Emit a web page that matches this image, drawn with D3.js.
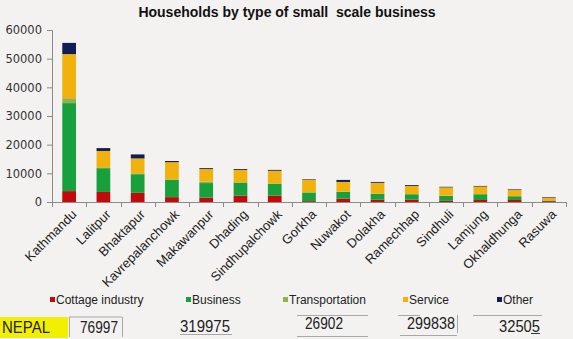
<!DOCTYPE html>
<meta charset="utf-8">
<style>
    body { margin: 0; background: #f3f2f0; }
    svg { display: block; }
    .yax text { font-family: "DejaVu Sans", sans-serif; font-size: 11.5px; fill: #333; }
    .yax path, .yax line { stroke: #8a8a8a; }
    .xlab { font-family: "Liberation Sans", Arial, sans-serif; font-size: 13px; fill: #222; }
    .leg { font-family: "Liberation Sans", Arial, sans-serif; font-size: 12px; fill: #222; }
    .tot { font-family: "Liberation Sans", Arial, sans-serif; font-size: 16px; fill: #222; }
    .grid { stroke: #a8a8a8; stroke-width: 1; }
</style>
<svg width="573" height="339"></svg>
<script src="https://cdn.jsdelivr.net/npm/d3@7"></script>
<script>
    // households per district, split by type of small scale business
    var districts = ["Kathmandu", "Lalitpur", "Bhaktapur", "Kavrepalanchowk", "Makawanpur", "Dhading",
        "Sindhupalchowk", "Gorkha", "Nuwakot", "Dolakha", "Ramechhap", "Sindhuli", "Lamjung", "Okhaldhunga", "Rasuwa"];
    var cottage   = [3800, 3500, 3200, 1700, 1500, 2200, 2200, 300, 1200, 800, 800, 400, 700, 700, 300];
    var business  = [30700, 8300, 6500, 6000, 5100, 4500, 4100, 3000, 2300, 2000, 1900, 1700, 2000, 1300, 200];
    var transport = [1700, 300, 300, 200, 500, 200, 200, 100, 100, 100, 100, 100, 100, 100, 100];
    var service   = [15400, 5700, 5200, 6000, 4400, 4300, 4400, 4300, 3400, 3800, 2800, 2900, 2600, 2100, 900];
    var other     = [3900, 1000, 1400, 400, 300, 300, 300, 200, 700, 300, 300, 200, 200, 200, 200];

    var seriesNames = ["Cottage industry", "Business", "Transportation", "Service", "Other"];
    var seriesColors = ["#c20a0a", "#17a03c", "#8fb14e", "#f1b20e", "#0f1e58"];

    // country totals shown under the legend
    var totalLabel = "NEPAL";
    var nepalTotals = [76997, 319975, 26902, 299838, 32505];

    var svg = d3.select("svg");
    var plotL = 52, plotR = 566, plotT = 30, plotB = 202;

    var rows = districts.map(function (d, i) {
        return { district: d, c0: cottage[i], c1: business[i], c2: transport[i], c3: service[i], c4: other[i] };
    });
    var keys = ["c0", "c1", "c2", "c3", "c4"];
    var stacked = d3.stack().keys(keys)(rows);

    var x = d3.scaleBand().domain(districts).range([plotL, plotR]).paddingInner(0.6).paddingOuter(0.3);
    var y = d3.scaleLinear().domain([0, 60000]).range([plotB, plotT]);

    // title
    svg.append("text")
        .attr("x", 287).attr("y", 17)
        .attr("text-anchor", "middle")
        .style("font-family", "Liberation Sans, Arial, sans-serif")
        .style("font-size", "14px").style("font-weight", "bold").style("fill", "#111")
        .style("white-space", "pre")
        .text("Households by type of small  scale business");

    // y axis
    svg.append("g").attr("class", "yax")
        .attr("transform", "translate(" + plotL + ",0)")
        .call(d3.axisLeft(y).tickValues(d3.range(0, 60001, 10000)).tickFormat(d3.format("d"))
            .tickSizeInner(5).tickSizeOuter(5).tickPadding(5));

    // bars
    svg.append("g").selectAll("g")
        .data(stacked)
        .enter().append("g")
        .attr("fill", function (s, i) { return seriesColors[i]; })
        .selectAll("rect")
        .data(function (s) { return s; })
        .enter().append("rect")
        .attr("x", function (d) { return x(d.data.district); })
        .attr("width", x.bandwidth())
        .attr("y", function (d) { return y(d[1]); })
        .attr("height", function (d) { return y(d[0]) - y(d[1]); });

    // x axis with ticks between categories
    var xa = svg.append("g");
    xa.append("line")
        .attr("x1", plotL).attr("x2", plotR).attr("y1", plotB + 0.5).attr("y2", plotB + 0.5)
        .style("stroke", "#8a8a8a");
    xa.selectAll("line.tk")
        .data(d3.range(districts.length + 1))
        .enter().append("line")
        .attr("class", "tk")
        .attr("x1", function (i) { return Math.round(plotL + i * (plotR - plotL) / districts.length) + 0.5; })
        .attr("x2", function (i) { return Math.round(plotL + i * (plotR - plotL) / districts.length) + 0.5; })
        .attr("y1", plotB).attr("y2", plotB + 5)
        .style("stroke", "#8a8a8a");

    svg.append("g").selectAll("text")
        .data(districts)
        .enter().append("text")
        .attr("class", "xlab")
        .attr("text-anchor", "end")
        .attr("transform", function (d) {
            return "translate(" + (x(d) + x.bandwidth() / 2 + 5) + "," + (plotB + 10) + ") rotate(-45)";
        })
        .attr("dy", "0.35em")
        .text(function (d) { return d; });

    // legend
    var legX = [50, 186, 283, 403, 497];
    var leg = svg.append("g").selectAll("g")
        .data(seriesNames)
        .enter().append("g")
        .attr("transform", function (d, i) { return "translate(" + legX[i] + ",297)"; });
    leg.append("rect").attr("width", 5).attr("height", 5)
        .attr("fill", function (d, i) { return seriesColors[i]; });
    leg.append("text").attr("class", "leg")
        .attr("x", 6).attr("y", 7)
        .text(function (d) { return d; });

    // totals row
    svg.append("rect").attr("x", 0).attr("y", 317).attr("width", 68).attr("height", 21).attr("fill", "#f2f000");
    svg.append("text").attr("class", "tot")
        .attr("x", 2).attr("y", 333)
        .attr("textLength", 48).attr("lengthAdjust", "spacingAndGlyphs")
        .text(totalLabel);

    var totPos = [[80, 333, 38], [180, 331.5, 50], [305, 328.5, 38], [407, 329, 48], [499, 331.5, 41]];
    svg.append("g").selectAll("text")
        .data(nepalTotals)
        .enter().append("text")
        .attr("class", "tot")
        .attr("x", function (d, i) { return totPos[i][0]; })
        .attr("y", function (d, i) { return totPos[i][1]; })
        .attr("textLength", function (d, i) { return totPos[i][2]; })
        .attr("lengthAdjust", "spacingAndGlyphs")
        .text(function (d) { return d; });

    // leftover cell borders of the pasted table
    var cellLines = [
        [69, 317, 122, 317], [69.5, 317, 69.5, 337], [122.5, 317, 122.5, 337],
        [180, 334.5, 232, 334.5],
        [297, 315.5, 368, 315.5], [297, 336.5, 368, 336.5],
        [398, 315.5, 420, 315.5], [400, 335.5, 457, 335.5], [457.5, 315, 457.5, 333],
        [473, 315.5, 542, 315.5]
    ];
    svg.append("g").selectAll("line")
        .data(cellLines)
        .enter().append("line")
        .attr("class", "grid")
        .attr("x1", function (l) { return l[0]; }).attr("y1", function (l) { return l[1]; })
        .attr("x2", function (l) { return l[2]; }).attr("y2", function (l) { return l[3]; });
    svg.append("line")
        .attr("x1", 531).attr("x2", 540).attr("y1", 333.5).attr("y2", 333.5)
        .style("stroke", "#333");
</script>
